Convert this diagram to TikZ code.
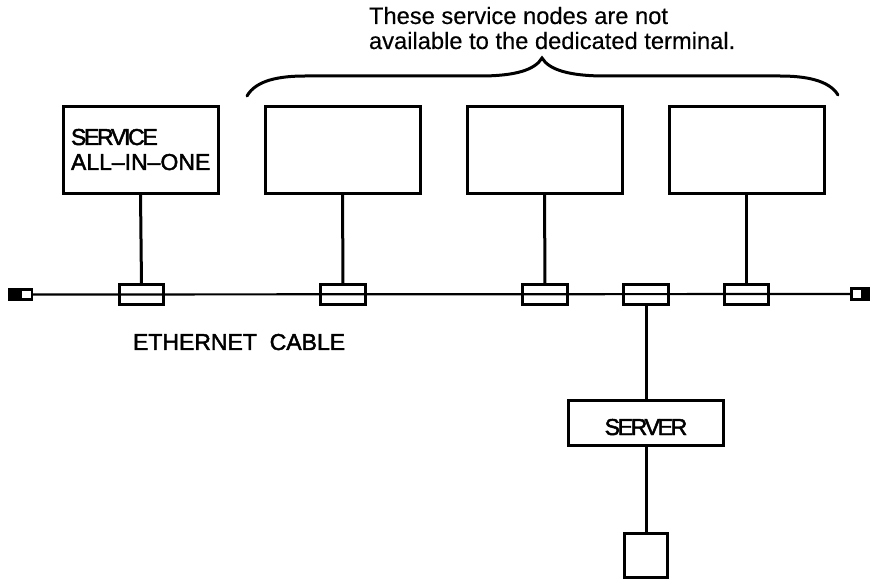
\documentclass[tikz,border=0pt]{standalone}
\usepackage{fontspec}
\setmainfont{Liberation Sans}[FakeBold=0.3]
\newfontfamily\labfont[FakeBold=2]{Liberation Sans}
\newfontfamily\tightfont[FakeBold=2,LetterSpace=-10]{Liberation Sans}
\begin{document}
\begin{tikzpicture}[x=1pt,y=-1pt,
  every node/.style={inner sep=0pt,outer sep=0pt},
  line/.style={draw=black,line width=3pt},
  svc/.style={line,minimum width=155pt,minimum height=87.5pt},
  tap/.style={line,minimum width=44.5pt,minimum height=20.5pt},
  capt/.style={font=\fontsize{23.7pt}{25pt}\selectfont,align=left},
  lab/.style={font=\labfont\fontsize{23pt}{25pt}\selectfont,align=left},
  tight/.style={font=\tightfont\fontsize{23pt}{25pt}\selectfont,align=left}]
\useasboundingbox (0,0) rectangle (871,580);
% boxes
\node[svc] (b1) at (140.5,150) {};
\node[svc] (b2) at (342.5,150) {};
\node[svc] (b3) at (544.5,150) {};
\node[svc] (b4) at (746.5,150) {};
\node[tight,anchor=base west] (t1) at (71,145) {SERVICE};
\node[lab,anchor=base west] (t2) at (71,170) {ALL–IN–ONE};
% taps
\node[tap] (p1) at (141.5,294.5) {};
\node[tap] (p2) at (343,294.5) {};
\node[tap] (p3) at (545,294.5) {};
\node[tap] (p4) at (646,294.5) {};
\node[tap] (p5) at (746.5,294.5) {};
% terminators
\node[draw=black,fill=black,minimum width=24pt,minimum height=12pt,line width=1.5pt] (tl) at (20.5,294.5) {};
\node[draw=black,fill=white,minimum width=10pt,minimum height=9pt,line width=1.5pt] (tlw) at (26.5,294.5) {};
\node[draw=black,fill=black,minimum width=19pt,minimum height=12pt,line width=1.5pt] (tr) at (860,294) {};
\node[draw=black,fill=white,minimum width=10pt,minimum height=9pt,line width=1.5pt] (trw) at (857,294) {};
% cable
\draw[draw=black,line width=2.2pt] (tlw.east) -- (trw.west);
% drops
\foreach \a/\b in {b1/p1,b2/p2,b3/p3,b4/p5}
  \draw[line] (\a.south) -- (\b.north);
% server
\node[line,minimum width=155.5pt,minimum height=44.5pt] (srv) at (646,423) {};
\node[tight,anchor=base] (srvt) at (646,435) {SERVER};
\node[line,minimum width=43.5pt,minimum height=43.5pt] (tm) at (646,555.5) {};
\draw[line] (p4.south) -- (srv.north);
\draw[line] (srv.south) -- (tm.north);
% labels
\node[lab,anchor=base west] (eth) at (133,350) {ETHERNET\ \ CABLE};
\node[capt,anchor=base west] (cap1) at (369,24) {These service nodes are not};
\node[capt,anchor=base west] (cap2) at (369,49) {available to the dedicated terminal.};
% brace
\coordinate (bl) at (247,96);
\coordinate (bt) at (542,58);
\coordinate (br) at (838,95);
\draw[line,line cap=round] (bl) .. controls (256,80) and (280,76) .. (305,76)
  -- (480,76) .. controls (515,76) and (535,70) .. (bt)
  .. controls (549,70) and (570,76) .. (605,76)
  -- (780,76) .. controls (805,76) and (829,80) .. (br);
\end{tikzpicture}
\end{document}
